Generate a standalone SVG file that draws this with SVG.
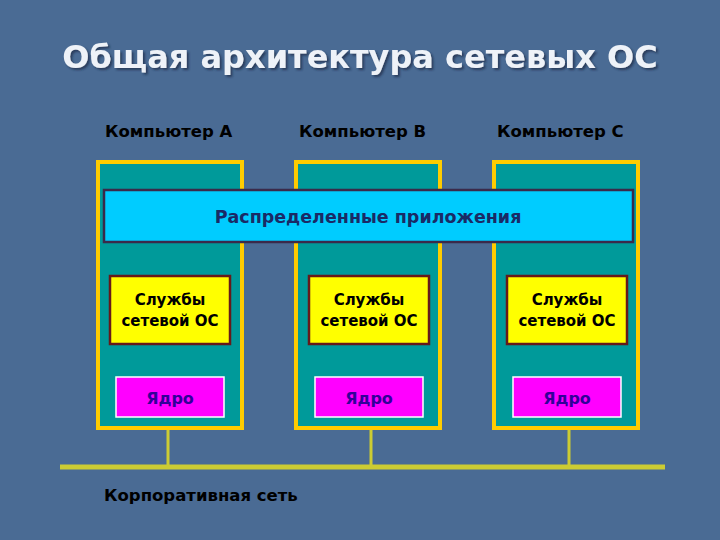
<svg xmlns="http://www.w3.org/2000/svg" width="720" height="540" viewBox="0 0 720 540">
<defs><filter id="sh" x="-5%" y="-30%" width="110%" height="160%"><feDropShadow dx="2" dy="2" stdDeviation="0.8" flood-color="#1a2a44" flood-opacity="0.7"/></filter></defs>
<style>
.ff{font-family:"DejaVu Sans","Noto Sans",sans-serif;font-weight:bold}
.comp{fill:#009a9a;stroke:#ffcc00;stroke-width:4}
.svc{fill:#ffff00;stroke:#661a1a;stroke-width:2.5}
.ker{fill:#ff00ff;stroke:#ffffff;stroke-width:1.5}
.lbl{font-size:16.5px;fill:#000}
.st{font-size:15px;fill:#000;text-anchor:middle}
.kt{font-size:16px;fill:#330099;text-anchor:middle}
.ln{stroke:#cccc33;fill:none}
</style>
<rect width="720" height="540" fill="#4a6b94"/>
<text x="360" y="68" class="ff" font-size="32" fill="#eef2f8" text-anchor="middle" filter="url(#sh)">Общая архитектура сетевых ОС</text>
<text x="105" y="137" class="ff lbl">Компьютер А</text>
<text x="299" y="137" class="ff lbl">Компьютер В</text>
<text x="497" y="137" class="ff lbl">Компьютер С</text>
<g id="compA"><rect class="comp" x="98" y="162" width="144" height="266"/></g>
<g id="compB"><rect class="comp" x="296" y="162" width="144" height="266"/></g>
<g id="compC"><rect class="comp" x="494" y="162" width="144" height="266"/></g>
<g id="apps"><rect x="104" y="190" width="529" height="52" fill="#00ccff" stroke="#3a2a4a" stroke-width="2.5"/>
<text x="368" y="223" class="ff" font-size="17.5" fill="#1a2a66" text-anchor="middle">Распределенные приложения</text></g>
<g id="svcA"><rect class="svc" x="110" y="276" width="120" height="68"/><text class="ff st" x="170" y="305">Службы</text><text class="ff st" x="170" y="326">сетевой ОС</text></g>
<g id="svcB"><rect class="svc" x="309" y="276" width="120" height="68"/><text class="ff st" x="369" y="305">Службы</text><text class="ff st" x="369" y="326">сетевой ОС</text></g>
<g id="svcC"><rect class="svc" x="507" y="276" width="120" height="68"/><text class="ff st" x="567" y="305">Службы</text><text class="ff st" x="567" y="326">сетевой ОС</text></g>
<g id="kerA"><rect class="ker" x="116" y="377" width="108" height="40"/><text class="ff kt" x="170" y="404">Ядро</text></g>
<g id="kerB"><rect class="ker" x="315" y="377" width="108" height="40"/><text class="ff kt" x="369" y="404">Ядро</text></g>
<g id="kerC"><rect class="ker" x="513" y="377" width="108" height="40"/><text class="ff kt" x="567" y="404">Ядро</text></g>
<g id="connectors">
<line class="ln" x1="60" y1="467" x2="665" y2="467" stroke-width="5"/>
<line class="ln" x1="168" y1="430" x2="168" y2="467" stroke-width="3"/>
<line class="ln" x1="371" y1="430" x2="371" y2="467" stroke-width="3"/>
<line class="ln" x1="569" y1="430" x2="569" y2="467" stroke-width="3"/>
</g>
<text x="104" y="501" class="ff lbl">Корпоративная сеть</text>
</svg>
